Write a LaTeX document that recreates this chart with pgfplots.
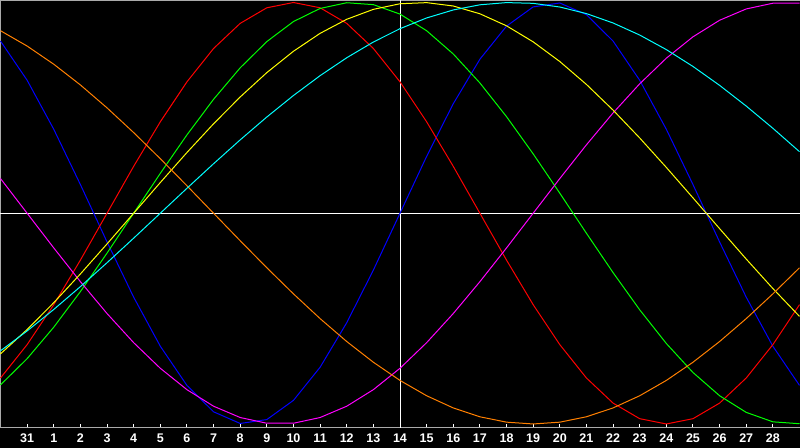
\documentclass[border=0pt]{standalone}
\usepackage{pgfplots}
\usepackage{pgfplotstable}
\pgfplotsset{compat=1.18}
\usetikzlibrary{backgrounds}
\usepackage{fontspec}
\setmainfont{Liberation Sans}

\definecolor{bord}{RGB}{170,170,170}
\definecolor{cphy}{RGB}{0,0,255}
\definecolor{cemo}{RGB}{255,0,0}
\definecolor{cint}{RGB}{0,255,0}
\definecolor{cintu}{RGB}{255,0,255}
\definecolor{caes}{RGB}{255,255,0}
\definecolor{cawa}{RGB}{255,128,0}
\definecolor{cspi}{RGB}{0,255,255}

% day, then one column per cycle (23, 28, 33, 38, 43, 48, 53 days)
\pgfplotstableread{
d   phy      emo      int      intu     aes      awa      spi
-1  0.81697  -0.78183 -0.81457 0.16459  -0.66732 0.86603  -0.65282
0   0.63109  -0.62349 -0.69007 0        -0.55177 0.79335  -0.55865
1   0.39840  -0.43388 -0.54064 -0.16459 -0.42446 0.70711  -0.45663
2   0.13617  -0.22252 -0.37166 -0.32470 -0.28810 0.60876  -0.34820
3   -0.13617 0        -0.18925 -0.47595 -0.14560 0.5      -0.23489
4   -0.39840 0.22252  0        -0.61421 0        0.38268  -0.11827
5   -0.63109 0.43388  0.18925  -0.73572 0.14560  0.25882  0
6   -0.81697 0.62349  0.37166  -0.83717 0.28810  0.13053  0.11827
7   -0.94226 0.78183  0.54064  -0.91577 0.42446  0        0.23489
8   -0.99767 0.90097  0.69007  -0.96940 0.55177  -0.13053 0.34820
9   -0.97908 0.97493  0.81457  -0.99658 0.66732  -0.25882 0.45663
10  -0.88789 1        0.90963  -0.99658 0.76865  -0.38268 0.55865
11  -0.73084 0.97493  0.97181  -0.96940 0.85360  -0.5     0.65282
12  -0.51958 0.90097  0.99887  -0.91577 0.92035  -0.60876 0.73784
13  -0.26980 0.78183  0.98982  -0.83717 0.96749  -0.70711 0.81249
14  0        0.62349  0.94500  -0.73572 0.99400  -0.79335 0.87574
15  0.26980  0.43388  0.86603  -0.61421 0.99933  -0.86603 0.92669
16  0.51958  0.22252  0.75575  -0.47595 0.98336  -0.92388 0.96464
17  0.73084  0        0.61816  -0.32470 0.94644  -0.96593 0.98904
18  0.88789  -0.22252 0.45823  -0.16459 0.88934  -0.99144 0.99956
19  0.97908  -0.43388 0.28173  0        0.81329  -1       0.99605
20  0.99767  -0.62349 0.09506  0.16459  0.71990  -0.99144 0.97856
21  0.94226  -0.78183 -0.09506 0.32470  0.61117  -0.96593 0.94732
22  0.81697  -0.90097 -0.28173 0.47595  0.48941  -0.92388 0.90280
23  0.63109  -0.97493 -0.45823 0.61421  0.35722  -0.86603 0.84559
24  0.39840  -1       -0.61816 0.73572  0.21742  -0.79335 0.77652
25  0.13617  -0.97493 -0.75575 0.83717  0.07299  -0.70711 0.69655
26  -0.13617 -0.90097 -0.86603 0.91577  -0.07300 -0.60876 0.60680
27  -0.39840 -0.78183 -0.94500 0.96940  -0.21744 -0.5     0.50853
28  -0.63109 -0.62349 -0.98982 0.99658  -0.35724 -0.38268 0.40312
29  -0.81697 -0.43388 -0.99887 0.99658  -0.48943 -0.25882 0.29205
}\cycles

\begin{document}
\begin{tikzpicture}
\begin{axis}[
    scale only axis,
    width=600pt, height=321pt,
    xmin=-1, xmax=29,
    ymin=-1.01896, ymax=1.00948,
    clip=false,
    axis x line=bottom,
    axis y line=left,
    axis line style={bord, -, line width=0.75pt},
    ytick=\empty,
    xtick={0,...,28},
    xticklabels={31,1,2,3,4,5,6,7,8,9,10,11,12,13,14,15,16,17,18,19,20,21,22,23,24,25,26,27,28},
    tick align=inside,
    major tick length=3pt,
    x tick style={white, line width=0.75pt},
    xticklabel style={white, font=\fontsize{9.4}{10}\selectfont\bfseries,
        inner sep=0pt, yshift=-4.5pt},
    every axis plot/.append style={line width=0.75pt, no marks},
]
\coordinate (bl) at (rel axis cs:0,0);
\coordinate (tr) at (rel axis cs:1,1);
\draw[bord, line width=0.75pt] (rel axis cs:0,1) -- (rel axis cs:1,1);
\addplot[white] coordinates {(-1,0) (29,0)};
\addplot[white] coordinates {(14,-1.01896) (14,1.00948)};

\addplot[cphy]  table[x=d, y=phy]  {\cycles};
\addplot[cemo]  table[x=d, y=emo]  {\cycles};
\addplot[cint]  table[x=d, y=int]  {\cycles};
\addplot[cintu] table[x=d, y=intu] {\cycles};
\addplot[caes]  table[x=d, y=aes]  {\cycles};
\addplot[cawa]  table[x=d, y=awa]  {\cycles};
\addplot[cspi]  table[x=d, y=spi]  {\cycles};
\end{axis}
\begin{scope}[on background layer]
\fill[black] ([yshift=-15pt]bl) rectangle (tr);
\end{scope}
\end{tikzpicture}
\end{document}
